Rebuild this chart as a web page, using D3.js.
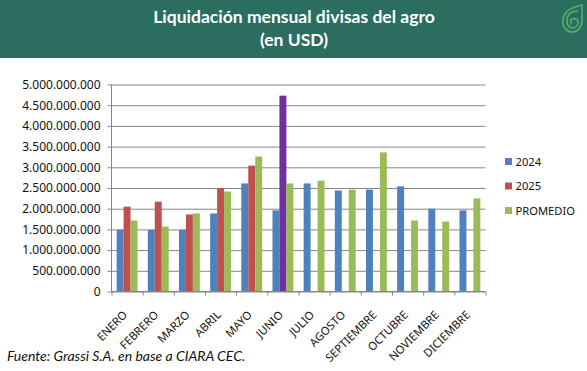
<!DOCTYPE html>
<html>
<head>
<meta charset="utf-8">
<script src="https://cdn.jsdelivr.net/npm/d3@7"></script>
<style>
html, body { margin: 0; padding: 0; background: #fff; }
svg { display: block; }
text { font-family: "Noto Sans", sans-serif; fill: #111; }
</style>
</head>
<body>
<svg id="chart" width="587" height="371"></svg>
<script>
const months = ["ENERO","FEBRERO","MARZO","ABRIL","MAYO","JUNIO","JULIO","AGOSTO","SEPTIEMBRE","OCTUBRE","NOVIEMBRE","DICIEMBRE"];
const seriesNames = ["2024","2025","PROMEDIO"];
const colors = ["#4f81bd","#c0504d","#9bbb59"];
const values2024 = [1.49e9,1.49e9,1.49e9,1.885e9,2.61e9,1.96e9,2.61e9,2.44e9,2.46e9,2.54e9,2.0e9,1.96e9];
const values2025 = [2.05e9,2.17e9,1.86e9,2.5e9,3.04e9,4.73e9,null,null,null,null,null,null];
const valuesProm = [1.715e9,1.57e9,1.885e9,2.415e9,3.26e9,2.61e9,2.68e9,2.46e9,3.36e9,1.715e9,1.69e9,2.25e9];
const yTicks = [0,5e8,1e9,1.5e9,2e9,2.5e9,3e9,3.5e9,4e9,4.5e9,5e9];
const highlight_month = "JUNIO"; // el dato parcial de junio va en violeta
const highlight_color = "#7030a0";

const left = 111.5, right = 485.5, top_y = 84.5, bottom = 291.5;
const svg = d3.select("#chart");

// encabezado
svg.append("rect").attr("width",587).attr("height",58).attr("fill","#2b6e60");
const titles = ["Liquidación mensual divisas del agro","(en USD)"];
svg.selectAll(".title").data(titles).enter().append("text")
    .attr("class","title")
    .attr("x",294)
    .attr("y",(d,i) => 23 + i*23)
    .attr("text-anchor","middle")
    .style("font-family","Lato")
    .style("font-weight","700")
    .style("font-size","17.5px")
    .style("fill","#fff")
    .text(d => d);

// logo
const logo = svg.append("g").attr("fill","none").attr("stroke","#55ad68").attr("stroke-width",1.6);
logo.append("path").attr("d","M582 5 C575 7 564 9 563 20 C562 27 567 32 572 32 C578 32 582 27 582 20 Z");
logo.append("path").attr("d","M578 11 C572 11 567 14 567 20 C567 25 569 28 573 28 C576 28 578 25 578 22 C578 19 575 18 572 19 C570 20 570 23 572 24");

const y = d3.scaleLinear().domain([0,5e9]).range([bottom,top_y]);
const x0 = d3.scaleBand().domain(months).range([left,right]).paddingInner(0.33).paddingOuter(0.165);
const x1 = d3.scaleBand().domain(seriesNames).range([0,x0.bandwidth()]);
const edges = d3.scaleLinear().domain([0,12]).range([left,right]);

// grilla y eje y
const yAxis = svg.append("g")
    .attr("transform",`translate(${left},0)`)
    .call(d3.axisLeft(y).tickValues(yTicks).tickSize(0).tickPadding(11)
        .tickFormat(d => d3.format(",")(d).replace(/,/g,".")));
yAxis.select(".domain").remove();
yAxis.selectAll(".tick line").remove();
yAxis.selectAll(".tick").append("line")
    .attr("x1",-4).attr("x2",right-left)
    .attr("stroke","#868686");
yAxis.selectAll("text").style("font-size","12px").style("fill","#111");
svg.append("line").attr("x1",left).attr("x2",left).attr("y1",top_y).attr("y2",bottom).attr("stroke","#868686");

// barras
const table = months.map((m,i) => ({month:m, vals:[values2024[i],values2025[i],valuesProm[i]]}));
const groups = svg.selectAll(".mes").data(table).enter().append("g")
    .attr("class","mes")
    .attr("transform",d => `translate(${x0(d.month)},0)`);
groups.selectAll("rect")
    .data(d => d.vals.map((v,i) => ({month:d.month, name:seriesNames[i], v:v, i:i})).filter(d => d.v !== null))
    .enter().append("rect")
    .attr("x",d => x1(d.name))
    .attr("width",x1.bandwidth())
    .attr("y",d => y(d.v))
    .attr("height",d => y(0)-y(d.v))
    .attr("fill",d => (d.month === highlight_month && d.name === "2025") ? highlight_color : colors[d.i]);

// eje x
const xAxis = svg.append("g")
    .attr("transform",`translate(0,${bottom})`)
    .call(d3.axisBottom(edges).tickValues(d3.range(13)).tickSize(4).tickFormat(""));
xAxis.selectAll("path,line").attr("stroke","#868686");
xAxis.select(".domain").attr("d",`M${left},0H${right}`);

svg.selectAll(".mes-label").data(months).enter().append("text")
    .attr("class","mes-label")
    .attr("text-anchor","end")
    .attr("transform",d => `translate(${x0(d)+x0.bandwidth()/2+1},${bottom+24}) rotate(-45)`)
    .style("font-size","11.3px")
    .text(d => d);

// leyenda
const legend = svg.selectAll(".leg").data(seriesNames).enter().append("g")
    .attr("class","leg")
    .attr("transform",(d,i) => `translate(505,${161.5 + i*24.5})`);
legend.append("rect").attr("x",0).attr("y",-3.5).attr("width",7).attr("height",7)
    .attr("fill",(d,i) => colors[i]);
legend.append("text").attr("x",10.5).attr("y",4).style("font-size","11.2px").text(d => d);

// fuente
svg.append("text").attr("x",7).attr("y",361)
    .style("font-family","Lato")
    .style("font-style","italic")
    .style("font-size","14px")
    .text("Fuente: Grassi S.A. en base a CIARA CEC.");
</script>
</body>
</html>
